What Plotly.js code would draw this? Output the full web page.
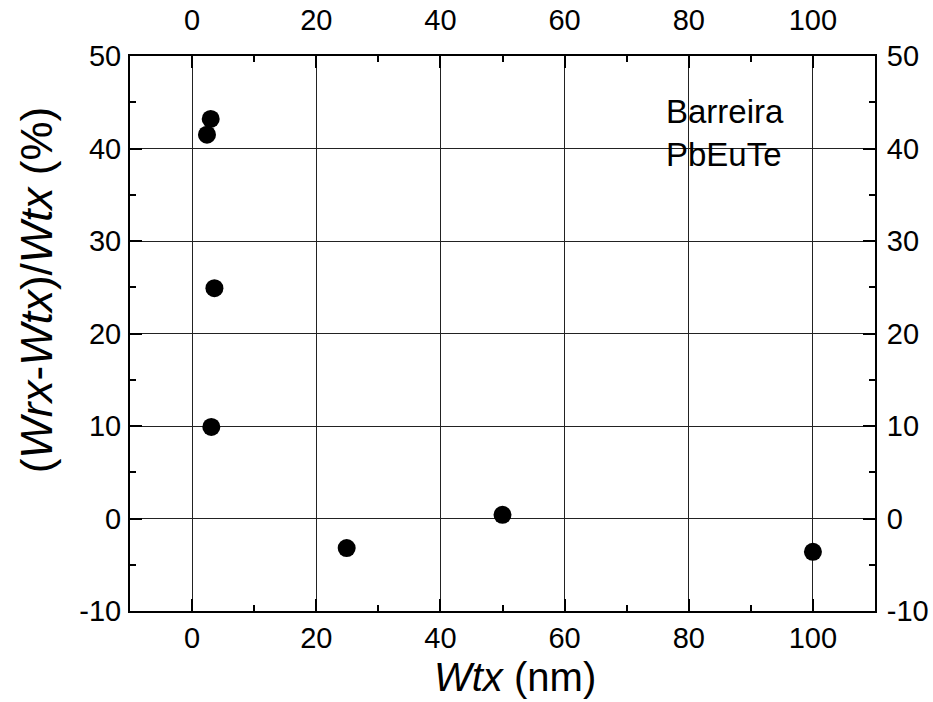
<!DOCTYPE html>
<html>
<head>
<meta charset="utf-8">
<script src="https://cdn.plot.ly/plotly-3.0.1.min.js"></script>
<style>html,body{margin:0;padding:0;background:#fff;}#chart{width:933px;height:702px;}</style>
</head>
<body>
<div id="chart"></div>
<script>
// Data
const wtx = [2.4, 3.0, 3.6, 3.1, 24.9, 50.0, 100.0];          // Wtx (nm)
const deviation = [41.5, 43.2, 24.9, 9.9, -3.2, 0.4, -3.6];   // (Wrx-Wtx)/Wtx (%)
const xTicks = [0, 20, 40, 60, 80, 100];
const yTicks = [-10, 0, 10, 20, 30, 40, 50];
const annotationLines = ["Barreira", "PbEuTe"];
const xTitle = "<i>Wtx</i> (nm)";
const yTitle = "(<i>Wrx</i>-<i>Wtx</i>)/<i>Wtx</i> (%)";

const FONT = "Liberation Sans, Arial, sans-serif";
const tickFont = {family: FONT, size: 29, color: "#000"};

const commonAxis = {
  ticks: "inside", ticklen: 12, tickwidth: 2, tickcolor: "#000",
  showline: true, linewidth: 2, linecolor: "#000",
  zeroline: false, tickfont: tickFont,
  minor: {ticks: "inside", ticklen: 6, tickwidth: 2, tickcolor: "#000", showgrid: false}
};

const traces = [
  {
    x: wtx, y: deviation, type: "scatter", mode: "markers",
    marker: {size: 18, color: "#000"},
    xaxis: "x", yaxis: "y", hoverinfo: "x+y"
  },
  {
    x: wtx, y: deviation, type: "scatter", mode: "markers",
    marker: {size: 18, color: "rgba(0,0,0,0)"},
    xaxis: "x2", yaxis: "y2", hoverinfo: "skip", showlegend: false
  }
];

const layout = {
  width: 933, height: 702,
  margin: {l: 130, r: 58, t: 56, b: 91},
  paper_bgcolor: "#fff", plot_bgcolor: "#fff",
  showlegend: false,
  xaxis: Object.assign({}, commonAxis, {
    range: [-10, 110], tickvals: xTicks, ticktext: xTicks.map(String),
    minor: Object.assign({}, commonAxis.minor, {dtick: 10, tick0: 0}),
    showgrid: true, gridcolor: "#222", gridwidth: 1,
    ticklabelstandoff: 0
  }),
  yaxis: Object.assign({}, commonAxis, {
    range: [-10, 50], tickvals: yTicks, ticktext: yTicks.map(String),
    minor: Object.assign({}, commonAxis.minor, {dtick: 5, tick0: 0}),
    showgrid: true, gridcolor: "#222", gridwidth: 1,
    ticklabelstandoff: 1
  }),
  xaxis2: Object.assign({}, commonAxis, {
    overlaying: "x", side: "top", anchor: "y2", matches: "x",
    range: [-10, 110], tickvals: xTicks, ticktext: xTicks.map(String),
    minor: Object.assign({}, commonAxis.minor, {dtick: 10, tick0: 0}),
    showgrid: false, ticklabelstandoff: 12
  }),
  yaxis2: Object.assign({}, commonAxis, {
    overlaying: "y", side: "right", anchor: "x2", matches: "y",
    range: [-10, 50], tickvals: yTicks, ticktext: yTicks.map(String),
    minor: Object.assign({}, commonAxis.minor, {dtick: 5, tick0: 0}),
    showgrid: false, ticklabelstandoff: 4
  }),
  annotations: [
    {
      xref: "x", yref: "y", x: 76.0, y: 46.2,
      xanchor: "left", yanchor: "top", align: "left",
      text: annotationLines.join("<br>"), showarrow: false,
      font: {family: FONT, size: 33, color: "#000"}
    },
    {
      xref: "paper", yref: "paper", x: 0.517, y: -0.119,
      xanchor: "center", yanchor: "middle",
      text: xTitle, showarrow: false,
      font: {family: FONT, size: 40, color: "#000"}
    },
    {
      xref: "paper", yref: "paper", x: -0.126, y: 0.578,
      xanchor: "center", yanchor: "middle", textangle: -90,
      text: yTitle, showarrow: false,
      font: {family: FONT, size: 44, color: "#000"}
    }
  ]
};

Plotly.newPlot("chart", traces, layout, {displayModeBar: false, staticPlot: true});
</script>
</body>
</html>
